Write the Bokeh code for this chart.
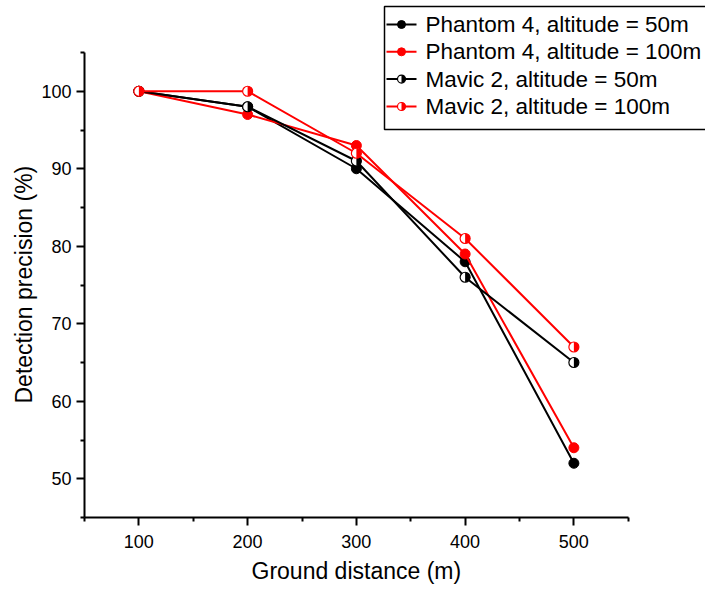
import math
from bokeh.plotting import figure
from bokeh.models import Range1d, FixedTicker, Title
from bokeh.core.properties import value
from bokeh.embed import file_html
from bokeh.resources import INLINE

# ---- data ----
distance = [100, 200, 300, 400, 500]
phantom_50 = [100, 98, 90, 78, 52]
phantom_100 = [100, 97, 93, 79, 54]
mavic_50 = [100, 98, 91, 76, 65]
mavic_100 = [100, 100, 92, 81, 67]
series_labels = ["Phantom 4, altitude = 50m", "Phantom 4, altitude = 100m",
                 "Mavic 2, altitude = 50m", "Mavic 2, altitude = 100m"]
x_ticks = [100, 200, 300, 400, 500]
x_minor = [50, 150, 250, 350, 450, 550]
y_ticks = [50, 60, 70, 80, 90, 100]
y_minor = [45, 55, 65, 75, 85, 95, 105]
x_title = "Ground distance (m)"
y_title = "Detection precision (%)"

# ---- layout ----
FONT = "Liberation Sans"
W, H = 705, 594
LEFT, BOTTOM = 84, 77
FW, FH = W - LEFT, H - BOTTOM
X0, X1 = 50, 550
Y0, Y1 = 45, 105
XPX = 1.0875
YPX = 7.75

p = figure(width=W, height=H, output_backend="svg", toolbar_location=None,
           x_range=Range1d(X0, X0 + FW / XPX), y_range=Range1d(Y0, Y0 + FH / YPX),
           min_border_left=LEFT, min_border_bottom=BOTTOM,
           min_border_top=0, min_border_right=0)
p.extra_x_ranges["px"] = Range1d(0, FW)
p.extra_y_ranges["px"] = Range1d(FH, 0)
p.background_fill_color = "white"
p.border_fill_color = "white"
p.outline_line_color = None
p.grid.visible = False

for ax in (p.xaxis[0], p.yaxis[0]):
    ax.axis_line_width = 2
    ax.axis_line_color = "black"
    ax.major_tick_line_width = 2
    ax.minor_tick_line_width = 2
    ax.major_tick_out = 8
    ax.major_tick_in = 0
    ax.minor_tick_out = 4
    ax.minor_tick_in = 0
    ax.major_label_text_font = FONT
    ax.major_label_text_font_size = "18px"
    ax.major_label_text_color = "black"
p.xaxis.bounds = (X0, X1)
p.yaxis.bounds = (Y0, Y1)
p.xaxis.ticker = FixedTicker(ticks=x_ticks, minor_ticks=x_minor)
p.yaxis.ticker = FixedTicker(ticks=y_ticks, minor_ticks=y_minor)
p.xaxis.major_label_standoff = 9
p.yaxis.major_label_standoff = 5

series = [(phantom_50, "black", False), (phantom_100, "red", False),
          (mavic_50, "black", True), (mavic_100, "red", True)]

for ys, c, half in series:
    p.line(distance, ys, line_color=c, line_width=2)
    if not half:
        p.scatter(distance, ys, size=10, fill_color=c, line_color=c, line_width=1)
    else:
        p.scatter(distance, ys, size=10, fill_color="white", line_color=c, line_width=1.2)
        p.wedge(distance, ys, radius=5, radius_units="screen",
                start_angle=-math.pi / 2, end_angle=math.pi / 2,
                fill_color=c, line_color=None)

# ---- legend (canvas coordinates converted to frame pixels) ----
def px(xc):
    return xc - LEFT

def py(yc):
    return yc

leg_rows = [24, 51.3, 78.6, 106]
p.quad(left=[px(384)], right=[FW + 20], top=[py(6)], bottom=[py(129)],
       fill_color="white", line_color="black", line_width=1.5,
       x_range_name="px", y_range_name="px")
for (ys, c, half), yr, lab in zip(series, leg_rows, series_labels):
    p.segment(x0=[px(386)], y0=[py(yr)], x1=[px(416)], y1=[py(yr)],
              line_color=c, line_width=2, x_range_name="px", y_range_name="px")
    if not half:
        p.scatter([px(401)], [py(yr)], size=8, fill_color=c, line_color=c,
                  x_range_name="px", y_range_name="px")
    else:
        p.scatter([px(401)], [py(yr)], size=8, fill_color="white", line_color=c,
                  line_width=1.2, x_range_name="px", y_range_name="px")
        p.wedge([px(401)], [py(yr)], radius=4, radius_units="screen",
                start_angle=-math.pi / 2, end_angle=math.pi / 2,
                fill_color=c, line_color=None, x_range_name="px", y_range_name="px")
    p.text([px(425)], [py(yr)], text=[lab], text_font=value(FONT),
           text_font_size="22.5px", text_baseline="middle", text_align="left",
           text_color="black", x_range_name="px", y_range_name="px")

# ---- axis titles ----
p.add_layout(Title(text=x_title, align="left", offset=167, vertical_align="top",
                   standoff=14, text_font=FONT, text_font_size="23px",
                   text_font_style="normal", text_color="black"), "below")
p.add_layout(Title(text=y_title, align="left", offset=114, vertical_align="bottom",
                   standoff=4, text_font=FONT, text_font_size="23px",
                   text_font_style="normal", text_color="black"), "left")

open("out.html", "w").write(file_html(p, INLINE))
